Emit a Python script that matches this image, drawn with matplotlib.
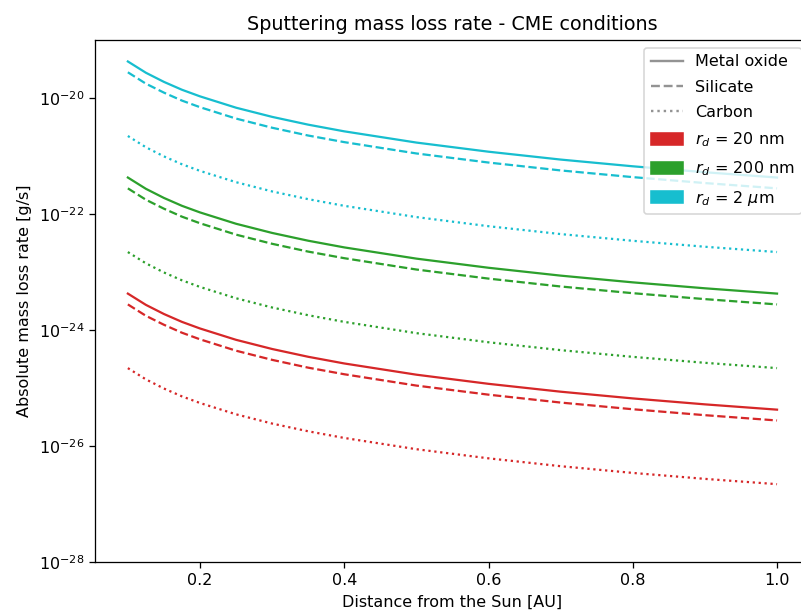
import matplotlib
matplotlib.use("Agg")
import matplotlib.pyplot as plt
from matplotlib.lines import Line2D
from matplotlib.patches import Patch
from matplotlib.ticker import NullLocator

# distance from the Sun [AU]
distance = [0.1, 0.125, 0.15, 0.175, 0.2, 0.25, 0.3, 0.35, 0.4, 0.5, 0.6, 0.7, 0.8, 0.9, 1.0]

# mass loss rate [g/s], r_d = 20 nm
oxide_20nm = [4.27e-24, 2.73e-24, 1.90e-24, 1.39e-24, 1.07e-24, 6.82e-25, 4.74e-25, 3.48e-25,
              2.67e-25, 1.71e-25, 1.19e-25, 8.71e-26, 6.67e-26, 5.27e-26, 4.27e-26]
silicate_20nm = [2.78e-24, 1.77e-24, 1.24e-24, 9.04e-25, 6.96e-25, 4.43e-25, 3.08e-25, 2.26e-25,
                 1.74e-25, 1.11e-25, 7.74e-26, 5.66e-26, 4.34e-26, 3.43e-26, 2.78e-26]
carbon_20nm = [2.22e-25, 1.42e-25, 9.88e-26, 7.23e-26, 5.56e-26, 3.55e-26, 2.46e-26, 1.81e-26,
               1.39e-26, 8.89e-27, 6.19e-27, 4.53e-27, 3.47e-27, 2.74e-27, 2.22e-27]

# r_d = 200 nm
oxide_200nm = [4.27e-22, 2.73e-22, 1.90e-22, 1.39e-22, 1.07e-22, 6.82e-23, 4.74e-23, 3.48e-23,
               2.67e-23, 1.71e-23, 1.19e-23, 8.71e-24, 6.67e-24, 5.27e-24, 4.27e-24]
silicate_200nm = [2.78e-22, 1.77e-22, 1.24e-22, 9.04e-23, 6.96e-23, 4.43e-23, 3.08e-23, 2.26e-23,
                  1.74e-23, 1.11e-23, 7.74e-24, 5.66e-24, 4.34e-24, 3.43e-24, 2.78e-24]
carbon_200nm = [2.22e-23, 1.42e-23, 9.88e-24, 7.23e-24, 5.56e-24, 3.55e-24, 2.46e-24, 1.81e-24,
                1.39e-24, 8.89e-25, 6.19e-25, 4.53e-25, 3.47e-25, 2.74e-25, 2.22e-25]

# r_d = 2 um
oxide_2um = [4.27e-20, 2.73e-20, 1.90e-20, 1.39e-20, 1.07e-20, 6.82e-21, 4.74e-21, 3.48e-21,
             2.67e-21, 1.71e-21, 1.19e-21, 8.71e-22, 6.67e-22, 5.27e-22, 4.27e-22]
silicate_2um = [2.78e-20, 1.77e-20, 1.24e-20, 9.04e-21, 6.96e-21, 4.43e-21, 3.08e-21, 2.26e-21,
                1.74e-21, 1.11e-21, 7.74e-22, 5.66e-22, 4.34e-22, 3.43e-22, 2.78e-22]
carbon_2um = [2.22e-21, 1.42e-21, 9.88e-22, 7.23e-22, 5.56e-22, 3.55e-22, 2.46e-22, 1.81e-22,
              1.39e-22, 8.89e-23, 6.19e-23, 4.53e-23, 3.47e-23, 2.74e-23, 2.22e-23]

sizes = ["$r_d$ = 20 nm", "$r_d$ = 200 nm", "$r_d$ = 2 $\\mu$m"]
size_colors = ["tab:red", "tab:green", "tab:cyan"]
materials = ["Metal oxide", "Silicate", "Carbon"]
material_styles = ["-", "--", ":"]

data = [
    [oxide_20nm, silicate_20nm, carbon_20nm],
    [oxide_200nm, silicate_200nm, carbon_200nm],
    [oxide_2um, silicate_2um, carbon_2um],
]

dpi = 115
fig = plt.figure(figsize=(801 / dpi, 612 / dpi), dpi=dpi)
ax = fig.add_axes([0.1191, 0.0812, 0.8915, 0.8534])

for color, group in zip(size_colors, data):
    for style, values in zip(material_styles, group):
        ax.plot(distance, values, color=color, linestyle=style, linewidth=1.4)

ax.set_yscale("log")
ax.set_ylim(1e-28, 1e-19)
ax.set_yticks([1e-28, 1e-26, 1e-24, 1e-22, 1e-20])
ax.yaxis.set_minor_locator(NullLocator())
ax.set_xticks([0.2, 0.4, 0.6, 0.8, 1.0])

ax.set_xlabel("Distance from the Sun [AU]")
ax.set_ylabel("Absolute mass loss rate [g/s]")
ax.set_title("Sputtering mass loss rate - CME conditions")

# legend: line style = material, colour = grain size
handles = [Line2D([], [], color="gray", alpha=0.85, linestyle=s) for s in material_styles]
handles += [Patch(color=c) for c in size_colors]
ax.legend(handles, materials + sizes, loc="upper right", labelspacing=0.65, handleheight=0.8)

fig.savefig("out.png", dpi=dpi)
